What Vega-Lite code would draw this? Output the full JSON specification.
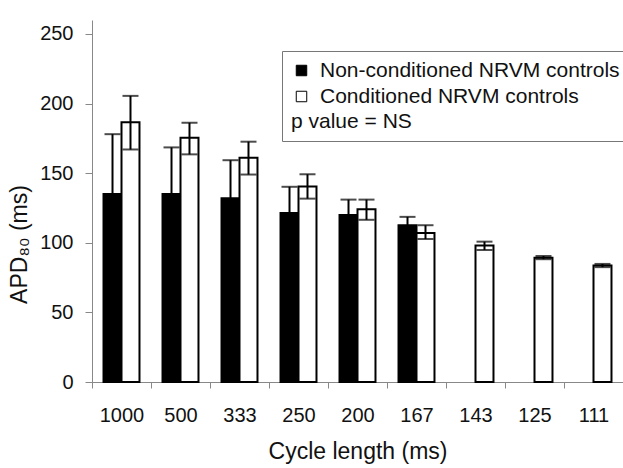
{
  "$schema": "https://vega.github.io/schema/vega-lite/v6.json",
  "autosize": "none",
  "width": 531,
  "height": 362,
  "padding": {"left": 92, "top": 20, "right": 0, "bottom": 86},
  "config": {
    "view": {"stroke": null},
    "font": "Liberation Sans",
    "axis": {"labelFont": "Liberation Sans", "titleFont": "Liberation Sans", "labelColor": "#111", "titleColor": "#111", "domainColor": "#888", "tickColor": "#888", "grid": false, "titleFontWeight": "normal"}
  },
  "data": {
    "values": [
      {"cycle": "1000", "group": "Non-conditioned NRVM controls", "mean": 135, "lo": 92, "hi": 178},
      {"cycle": "1000", "group": "Conditioned NRVM controls", "mean": 186.5, "lo": 167, "hi": 205.5},
      {"cycle": "500", "group": "Non-conditioned NRVM controls", "mean": 135, "lo": 101.5, "hi": 168.5},
      {"cycle": "500", "group": "Conditioned NRVM controls", "mean": 175.4, "lo": 163.5, "hi": 186.2},
      {"cycle": "333", "group": "Non-conditioned NRVM controls", "mean": 132, "lo": 104.7, "hi": 159.3},
      {"cycle": "333", "group": "Conditioned NRVM controls", "mean": 161, "lo": 149, "hi": 172.6},
      {"cycle": "250", "group": "Non-conditioned NRVM controls", "mean": 121.3, "lo": 102.4, "hi": 140.2},
      {"cycle": "250", "group": "Conditioned NRVM controls", "mean": 140.4, "lo": 131.7, "hi": 149.2},
      {"cycle": "200", "group": "Non-conditioned NRVM controls", "mean": 120, "lo": 109, "hi": 131},
      {"cycle": "200", "group": "Conditioned NRVM controls", "mean": 124, "lo": 116.5, "hi": 131},
      {"cycle": "167", "group": "Non-conditioned NRVM controls", "mean": 112.6, "lo": 106.6, "hi": 118.6},
      {"cycle": "167", "group": "Conditioned NRVM controls", "mean": 107, "lo": 102.7, "hi": 112.6},
      {"cycle": "143", "group": "Conditioned NRVM controls", "mean": 98, "lo": 94.8, "hi": 100.8},
      {"cycle": "125", "group": "Conditioned NRVM controls", "mean": 89.3, "lo": 88.2, "hi": 90.5},
      {"cycle": "111", "group": "Conditioned NRVM controls", "mean": 83.6, "lo": 82.5, "hi": 84.8}
    ]
  },
  "encoding": {
    "x": {
      "field": "cycle", "type": "nominal",
      "sort": ["1000", "500", "333", "250", "200", "167", "143", "125", "111"],
      "scale": {"paddingInner": 0, "paddingOuter": 0},
      "axis": {"title": "Cycle length (ms)", "labelAngle": 0, "labelFontSize": 20, "titleFontSize": 23, "tickBand": "extent", "tickSize": 6, "labelPadding": 17, "titlePadding": 15}
    },
    "xOffset": {
      "field": "group", "type": "nominal",
      "scale": {"domain": ["Non-conditioned NRVM controls", "Conditioned NRVM controls"], "paddingInner": 0, "paddingOuter": 0.64}
    }
  },
  "layer": [
    {
      "mark": {"type": "bar", "stroke": "black", "strokeWidth": 2},
      "encoding": {
        "y": {
          "field": "mean", "type": "quantitative",
          "scale": {"domain": [0, 250]},
          "axis": {"title": "APD₈₀ (ms)", "values": [0, 50, 100, 150, 200, 250], "labelFontSize": 20, "titleFontSize": 23, "tickSize": 7, "labelPadding": 12, "titlePadding": 8, "titleY": 224}
        },
        "fill": {
          "field": "group", "type": "nominal",
          "scale": {"domain": ["Non-conditioned NRVM controls", "Conditioned NRVM controls"], "range": ["black", "white"]},
          "legend": {
            "title": "p value = NS", "titleOrient": "bottom", "titleFontSize": 21, "titleFontWeight": "normal", "titleFont": "Liberation Sans", "titleColor": "#111", "titlePadding": 4,
            "orient": "none", "legendX": 190, "legendY": 31,
            "strokeColor": "#777", "padding": 9, "labelFontSize": 21, "labelFont": "Liberation Sans", "labelColor": "#111", "labelLimit": 400, "labelOffset": 8,
            "symbolType": "square", "symbolSize": 110, "symbolStrokeColor": "black", "symbolStrokeWidth": 1, "rowPadding": 4
          }
        }
      }
    },
    {
      "mark": {"type": "rule", "color": "black", "strokeWidth": 2},
      "encoding": {
        "y": {"field": "lo", "type": "quantitative"},
        "y2": {"field": "hi"}
      }
    },
    {
      "mark": {"type": "tick", "color": "black", "orient": "horizontal", "size": 16, "thickness": 2},
      "encoding": {"y": {"field": "hi", "type": "quantitative"}}
    },
    {
      "mark": {"type": "tick", "color": "black", "orient": "horizontal", "size": 16, "thickness": 2},
      "encoding": {"y": {"field": "lo", "type": "quantitative"}}
    }
  ]
}
